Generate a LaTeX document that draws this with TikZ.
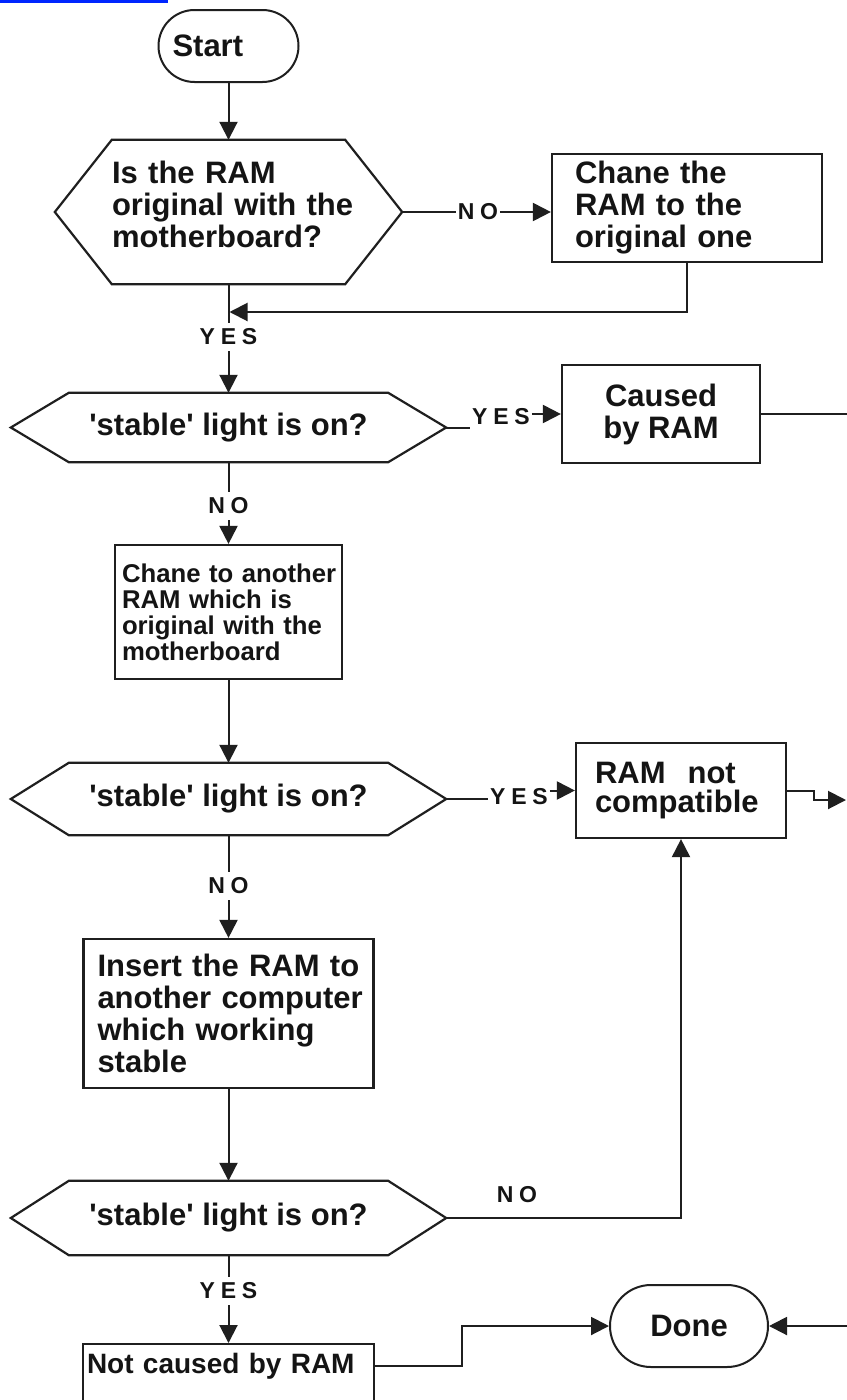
\documentclass[tikz,border=0pt]{standalone}
\usepackage{fontspec}
\setmainfont{Liberation Sans}[Ligatures=TeXOff]
\newfontfamily\lblfont[LetterSpace=25,Ligatures=TeXOff]{Liberation Sans}
\usetikzlibrary{arrows.meta,calc}
\newcommand\hexdraw[2]{%
  \draw[line width=2.2pt,draw=black!88] (#1.west) -- ([xshift=#2pt]#1.north west) -- ([xshift=-#2pt]#1.north east) -- (#1.east) -- ([xshift=-#2pt]#1.south east) -- ([xshift=#2pt]#1.south west) -- cycle;}
\begin{document}
\begin{tikzpicture}[x=1pt,y=-1pt,
  line/.style={line width=2pt,draw=black!88},
  arr/.style={line,-{Triangle[length=18pt,width=18pt]}},
  bigtxt/.style={font=\bfseries\fontsize{31}{32}\selectfont,text=black!92},
  box/.style={bigtxt,draw=black!88,line width=2.2pt,rectangle,inner sep=0pt},
  term/.style={bigtxt,draw=black!88,line width=2pt,rectangle,inner sep=0pt},
  dec/.style={bigtxt,rectangle,inner sep=0pt},
  lbl/.style={font=\lblfont\bfseries\fontsize{23}{23}\selectfont,text=black!92,inner xsep=2pt,inner ysep=6pt}
]
\useasboundingbox (0,0) rectangle (846,1400);
\fill[white] (0,0) rectangle (846,1400);
\fill[blue!85!cyan] (0,0) rectangle (168,3);

% nodes
\node[term,rounded corners=36pt,minimum width=140pt,minimum height=72pt,text width=112pt,align=left] (start) at (228.5,46) {Start};
\node[dec,minimum width=347pt,minimum height=144pt,text width=233pt,align=left] (d1) at (228.5,212) {\mbox{Is the RAM}\\\mbox{original with the}\\\mbox{motherboard?}\rule[-16pt]{0pt}{1pt}};
\node[box,minimum width=270pt,minimum height=108pt,text width=224pt,align=left] (box2) at (687,208) {\mbox{Chane the}\\\mbox{RAM to the}\\\mbox{original one}};
\node[dec,minimum width=435pt,minimum height=69pt] (d2) at (228.5,427.5) {'stable' light is on?};
\node[box,minimum width=198pt,minimum height=98pt,align=center] (box3) at (661,414) {Caused\\by RAM};
\node[box,minimum width=227pt,minimum height=134pt,text width=213pt,align=left,font=\bfseries\fontsize{25.7}{26}\selectfont] (box4) at (228.5,612) {\mbox{Chane to another}\\\mbox{RAM which is}\\\mbox{original with the}\\\mbox{motherboard}};
\node[dec,minimum width=435pt,minimum height=72pt] (d3) at (228.5,799) {'stable' light is on?};
\node[box,minimum width=210pt,minimum height=95pt,text width=172pt,align=left,font=\bfseries\fontsize{31}{29}\selectfont] (box5) at (681,790.5) {\mbox{RAM\hspace{22pt}not}\\\mbox{compatible}};
\node[box,minimum width=290pt,minimum height=149pt,text width=262pt,align=left] (box6) at (228.5,1013.5) {\mbox{Insert the RAM to}\\\mbox{another computer}\\\mbox{which working}\\\mbox{stable}};
\node[dec,minimum width=435pt,minimum height=74pt] (d4) at (228.5,1218) {'stable' light is on?};
\node[box,anchor=north,minimum width=291pt,text width=283pt,align=left,text height=29pt,text depth=60pt,font=\bfseries\fontsize{28}{29}\selectfont] (box7) at (228.5,1343) {\mbox{Not caused by RAM}};
\node[term,rounded corners=41pt,minimum width=158pt,minimum height=82pt] (done) at (689,1326) {Done};

% hexagons
\hexdraw{d1}{57}
\hexdraw{d2}{58}
\hexdraw{d3}{58}
\hexdraw{d4}{58}

% labels
\node[lbl] (no1) at (478,212) {NO};
\node[lbl] (yes1) at (228.5,337) {YES};
\node[lbl] (yes2) at (501,417) {YES};
\node[lbl] (no2) at (228.5,506) {NO};
\node[lbl] (yes3) at (519,797) {YES};
\node[lbl] (no3) at (228.5,886) {NO};
\node[lbl] (no4) at (517,1195) {NO};
\node[lbl] (yes4) at (228.5,1291) {YES};

% coordinates
\coordinate (j1) at (229.5,312);
\coordinate (out1) at (850,414);
\coordinate (out2) at (846,800);
\coordinate (in1) at (850,1326);
\coordinate (b7r) at ($(box7.north east)+(0,23)$);

% connectors
\draw[arr] (start.south) -- (d1.north);
\draw[line] (d1.east) -- (no1.west);
\draw[arr] (no1.east) -- (no1.east -| box2.west);
\draw[line] (d1.south) -- (yes1.north);
\draw[arr] (yes1.south) -- (d2.north);
\draw[arr] (box2.south) |- (j1);
\draw[line] (d2.east) -- (d2.east -| yes2.west);
\draw[arr] (yes2.east |- box3.west) -- (box3.west);
\draw[line] (box3.east) -- (out1);
\draw[line] (d2.south) -- (no2.north);
\draw[arr] (no2.south) -- (box4.north);
\draw[arr] (box4.south) -- (d3.north);
\draw[line] (d3.east) -- (d3.east -| yes3.west);
\draw[arr] (yes3.east |- box5.west) -- (box5.west);
\draw[arr] (box5.east) -- ++(27,0) |- (out2);
\draw[line] (d3.south) -- (no3.north);
\draw[arr] (no3.south) -- (box6.north);
\draw[arr] (box6.south) -- (d4.north);
\draw[arr] (d4.east) -| (box5.south);
\draw[line] (d4.south) -- (yes4.north);
\draw[arr] (yes4.south) -- (box7.north);
\draw[arr] (b7r) -- ++(87,0) |- (done.west);
\draw[arr] (in1) -- (done.east);
\end{tikzpicture}
\end{document}
